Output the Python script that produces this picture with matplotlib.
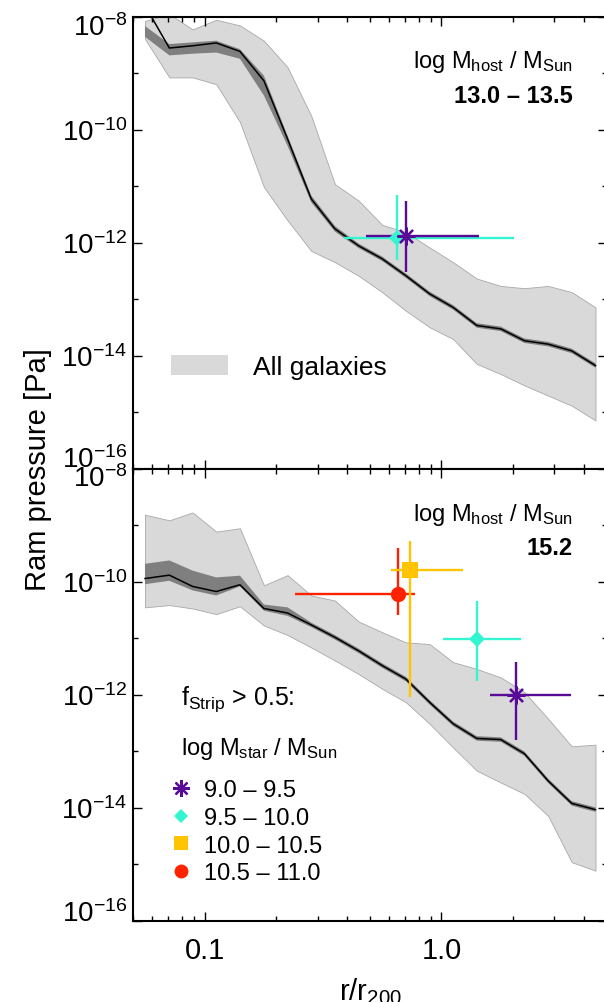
import numpy as np
import matplotlib
matplotlib.use("Agg")
import matplotlib.pyplot as plt
from matplotlib.lines import Line2D
from matplotlib.patches import Patch
from matplotlib.ticker import FixedLocator, NullFormatter

plt.rcParams['font.family'] = ['Liberation Sans', 'DejaVu Sans']
plt.rcParams['mathtext.fontset'] = 'custom'
plt.rcParams['mathtext.rm'] = 'Liberation Sans'
plt.rcParams['mathtext.it'] = 'Liberation Sans:italic'
plt.rcParams['mathtext.bf'] = 'Liberation Sans:bold'
plt.rcParams['mathtext.sf'] = 'Liberation Sans'

# radial bins, r / r200
r = [0.056, 0.071, 0.089, 0.112, 0.141, 0.178, 0.224, 0.282, 0.355, 0.447,
     0.562, 0.708, 0.891, 1.12, 1.41, 1.78, 2.24, 2.82, 3.55, 4.47]

# log10 ram pressure [Pa], host 13.0 - 13.5
lo_med = [-7.80, -8.55, -8.51, -8.46, -8.61, -9.13, -10.16, -11.22, -11.75, -12.05,
          -12.28, -12.58, -12.90, -13.14, -13.46, -13.52, -13.73, -13.79, -13.91, -14.17]
lo_dark_lo = [-8.35, -8.68, -8.65, -8.63, -8.74, -9.39, -10.28, -11.28, -11.80, -12.09,
              -12.32, -12.62, -12.94, -13.18, -13.50, -13.56, -13.77, -13.83, -13.95, -14.21]
lo_dark_hi = [-8.16, -8.48, -8.45, -8.42, -8.57, -9.04, -10.10, -11.16, -11.70, -12.01,
              -12.24, -12.54, -12.86, -13.10, -13.42, -13.48, -13.69, -13.75, -13.87, -14.13]
lo_all_hi = [-8.07, -7.95, -8.22, -8.05, -8.15, -8.42, -8.89, -9.75, -10.96, -11.25,
             -11.68, -11.81, -12.08, -12.34, -12.63, -12.76, -12.80, -12.76, -12.87, -13.14]
lo_all_lo = [-8.39, -9.07, -9.07, -9.19, -9.86, -11.01, -11.60, -12.14, -12.34, -12.58,
             -12.87, -13.20, -13.49, -13.70, -14.14, -14.32, -14.52, -14.70, -14.88, -15.14]

# log10 ram pressure [Pa], host 15.2
hi_med = [-9.94, -9.88, -10.08, -10.17, -10.05, -10.47, -10.55, -10.76, -10.98, -11.22,
          -11.48, -11.72, -12.13, -12.51, -12.77, -12.79, -13.04, -13.52, -13.92, -14.03]
hi_dark_lo = [-10.04, -9.98, -10.15, -10.24, -10.08, -10.51, -10.60, -10.80, -11.02, -11.26,
              -11.52, -11.76, -12.17, -12.55, -12.81, -12.83, -13.08, -13.56, -13.96, -14.07]
hi_dark_hi = [-9.68, -9.62, -9.80, -9.92, -9.89, -10.40, -10.45, -10.72, -10.94, -11.18,
              -11.44, -11.68, -12.09, -12.47, -12.73, -12.75, -13.00, -13.48, -13.88, -13.99]
hi_all_hi = [-8.81, -8.91, -8.77, -9.11, -9.05, -10.06, -9.88, -10.24, -10.33, -10.70,
             -10.89, -11.07, -11.10, -11.42, -11.54, -11.69, -11.95, -12.42, -12.91, -12.88]
hi_all_lo = [-10.45, -10.41, -10.47, -10.57, -10.43, -10.77, -10.94, -11.16, -11.39, -11.63,
             -11.89, -12.13, -12.51, -12.93, -13.34, -13.55, -13.75, -14.14, -14.96, -15.11]

# stripped galaxies, bins of stellar mass
mstar_bins = ['9.0 – 9.5', '9.5 – 10.0', '10.0 – 10.5', '10.5 – 11.0']
colors = ['#590A96', '#33F5D0', '#FFC400', '#FF2200']
markers = [(8, 2, 0), 'D', 's', 'o']
msizes = [13, 8, 11, 11]

# host 13.0 - 13.5 (only first two mass bins): r, r_lo, r_hi, logP, logP_lo, logP_hi
lo_pts_r = [0.706, 0.646]
lo_pts_rlo = [0.482, 0.388]
lo_pts_rhi = [1.44, 2.02]
lo_pts_p = [-11.87, -11.91]
lo_pts_plo = [-12.51, -12.30]
lo_pts_phi = [-11.25, -11.15]

# host 15.2
hi_pts_r = [2.07, 1.41, 0.734, 0.656]
hi_pts_rlo = [1.60, 1.02, 0.615, 0.240]
hi_pts_rhi = [3.54, 2.16, 1.23, 0.771]
hi_pts_p = [-12.01, -11.01, -9.79, -10.22]
hi_pts_plo = [-12.79, -11.75, -12.04, -10.58]
hi_pts_phi = [-11.41, -10.34, -9.27, -9.40]

fig = plt.figure(figsize=(6.04, 10.03), dpi=100)
ax1 = fig.add_axes([0.2207, 0.5314, 0.7843, 0.4507])
ax2 = fig.add_axes([0.2207, 0.0808, 0.7843, 0.4507], sharex=ax1)


def draw_panel(ax, med, dlo, dhi, alo, ahi, pr, prlo, prhi, pp, pplo, pphi, idx):
    rr = np.array(r)
    ax.fill_between(rr, 10**np.array(alo), 10**np.array(ahi), facecolor='#D9D9D9',
                    edgecolor='#A8A8A8', linewidth=0.6, zorder=1)
    ax.fill_between(rr, 10**np.array(dlo), 10**np.array(dhi), facecolor='#7F7F7F',
                    edgecolor='none', zorder=2)
    ax.plot(rr, 10**np.array(med), color='black', lw=1.1, zorder=3)
    # plot reversed so the lower-mass bins sit on top
    for k in reversed(range(len(pr))):
        i = idx[k]
        x = pr[k]
        y = 10**pp[k]
        xerr = [[x - prlo[k]], [prhi[k] - x]]
        yerr = [[y - 10**pplo[k]], [10**pphi[k] - y]]
        ax.errorbar([x], [y], xerr=xerr, yerr=yerr, fmt='none', ecolor=colors[i],
                    elinewidth=1.7, capsize=0, zorder=4)
        ax.plot([x], [y], marker=markers[i], color=colors[i], markersize=msizes[i],
                markeredgewidth=1.6 if i == 0 else 0, linestyle='none', zorder=5)

    ax.set_xscale('log')
    ax.set_yscale('log')
    ax.set_xlim(0.05, 5)
    ax.set_ylim(1e-16, 1e-8)
    ax.yaxis.set_major_locator(FixedLocator([1e-16, 1e-14, 1e-12, 1e-10, 1e-8]))
    ax.yaxis.set_minor_locator(FixedLocator([1e-15, 1e-13, 1e-11, 1e-9]))
    ax.yaxis.set_major_formatter(NullFormatter())
    ax.yaxis.set_minor_formatter(NullFormatter())
    ax.tick_params(which='both', direction='in', top=True, right=True, width=1.0)
    ax.tick_params(which='major', length=6.5)
    ax.tick_params(axis='x', which='minor', length=3.3)
    ax.tick_params(axis='y', which='minor', length=3.8)
    for s in ax.spines.values():
        s.set_linewidth(1.5)


draw_panel(ax1, lo_med, lo_dark_lo, lo_dark_hi, lo_all_lo, lo_all_hi,
           lo_pts_r, lo_pts_rlo, lo_pts_rhi, lo_pts_p, lo_pts_plo, lo_pts_phi, [0, 1])
draw_panel(ax2, hi_med, hi_dark_lo, hi_dark_hi, hi_all_lo, hi_all_hi,
           hi_pts_r, hi_pts_rlo, hi_pts_rhi, hi_pts_p, hi_pts_plo, hi_pts_phi, [0, 1, 2, 3])

# y tick labels, end labels pushed inside the panel like the original
yvals = [1e-8, 1e-10, 1e-12, 1e-14, 1e-16]
ylabs = [r'$10^{-8}$', r'$10^{-10}$', r'$10^{-12}$', r'$10^{-14}$', r'$10^{-16}$']
for ax, offs in [(ax1, [-13, -7, -7, -7, 1.4]), (ax2, [-12.2, -7, -7, -7, 0])]:
    for v, lab, dy in zip(yvals, ylabs, offs):
        ax.annotate(lab, xy=(0, v), xycoords=('axes fraction', 'data'),
                    xytext=(-4.5, dy), textcoords='offset points',
                    ha='right', va='baseline', fontsize=20)

ax1.tick_params(axis='x', which='both', labelbottom=False)
ax2.set_xticks([0.1, 1.0])
ax2.set_xticklabels(['0.1', '1.0'])
ax2.xaxis.set_minor_formatter(NullFormatter())
ax2.tick_params(axis='x', which='major', labelsize=21, pad=11)
ax2.set_xlabel(r'r/r$_{200}$', fontsize=21, labelpad=8)

fig.text(38 / 604, 0.5314, 'Ram pressure [Pa]', rotation=90, ha='center', va='center',
         fontsize=21)

# host mass labels
ax1.text(0.928, 0.889, r'log M$_{\rm host}$ / M$_{\rm Sun}$', transform=ax1.transAxes,
         ha='right', va='baseline', fontsize=17)
ax1.text(0.928, 0.811, '13.0 – 13.5', transform=ax1.transAxes,
         ha='right', va='baseline', fontsize=17, fontweight='bold')
ax2.text(0.928, 0.886, r'log M$_{\rm host}$ / M$_{\rm Sun}$', transform=ax2.transAxes,
         ha='right', va='baseline', fontsize=17)
ax2.text(0.928, 0.812, '15.2', transform=ax2.transAxes,
         ha='right', va='baseline', fontsize=17, fontweight='bold')

# legends
ax1.legend(handles=[Patch(facecolor='#D9D9D9', edgecolor='none')], labels=['All galaxies'],
           loc='center left', bbox_to_anchor=(0.0796, 0.2257), frameon=False,
           fontsize=19, handlelength=2.16, handleheight=0.83, handletextpad=0.95,
           borderpad=0, borderaxespad=0)

ax2.text(0.1007, 0.480, r'f$_{\rm Strip}$ > 0.5:', transform=ax2.transAxes,
         ha='left', va='baseline', fontsize=18)
ax2.text(0.1007, 0.3695, r'log M$_{\rm star}$ / M$_{\rm Sun}$', transform=ax2.transAxes,
         ha='left', va='baseline', fontsize=17)
handles = [Line2D([], [], marker=markers[i], color=colors[i], linestyle='none',
                  markersize=msizes[i] - 1, markeredgewidth=1.6 if i == 0 else 0)
           for i in range(4)]
ax2.legend(handles=handles, labels=mstar_bins, loc='center left',
           bbox_to_anchor=(0.0754, 0.197), frameon=False, fontsize=17,
           handlelength=1.0, handletextpad=0.5, labelspacing=0.24,
           borderpad=0, borderaxespad=0)

fig.savefig('out.png', dpi=100)
